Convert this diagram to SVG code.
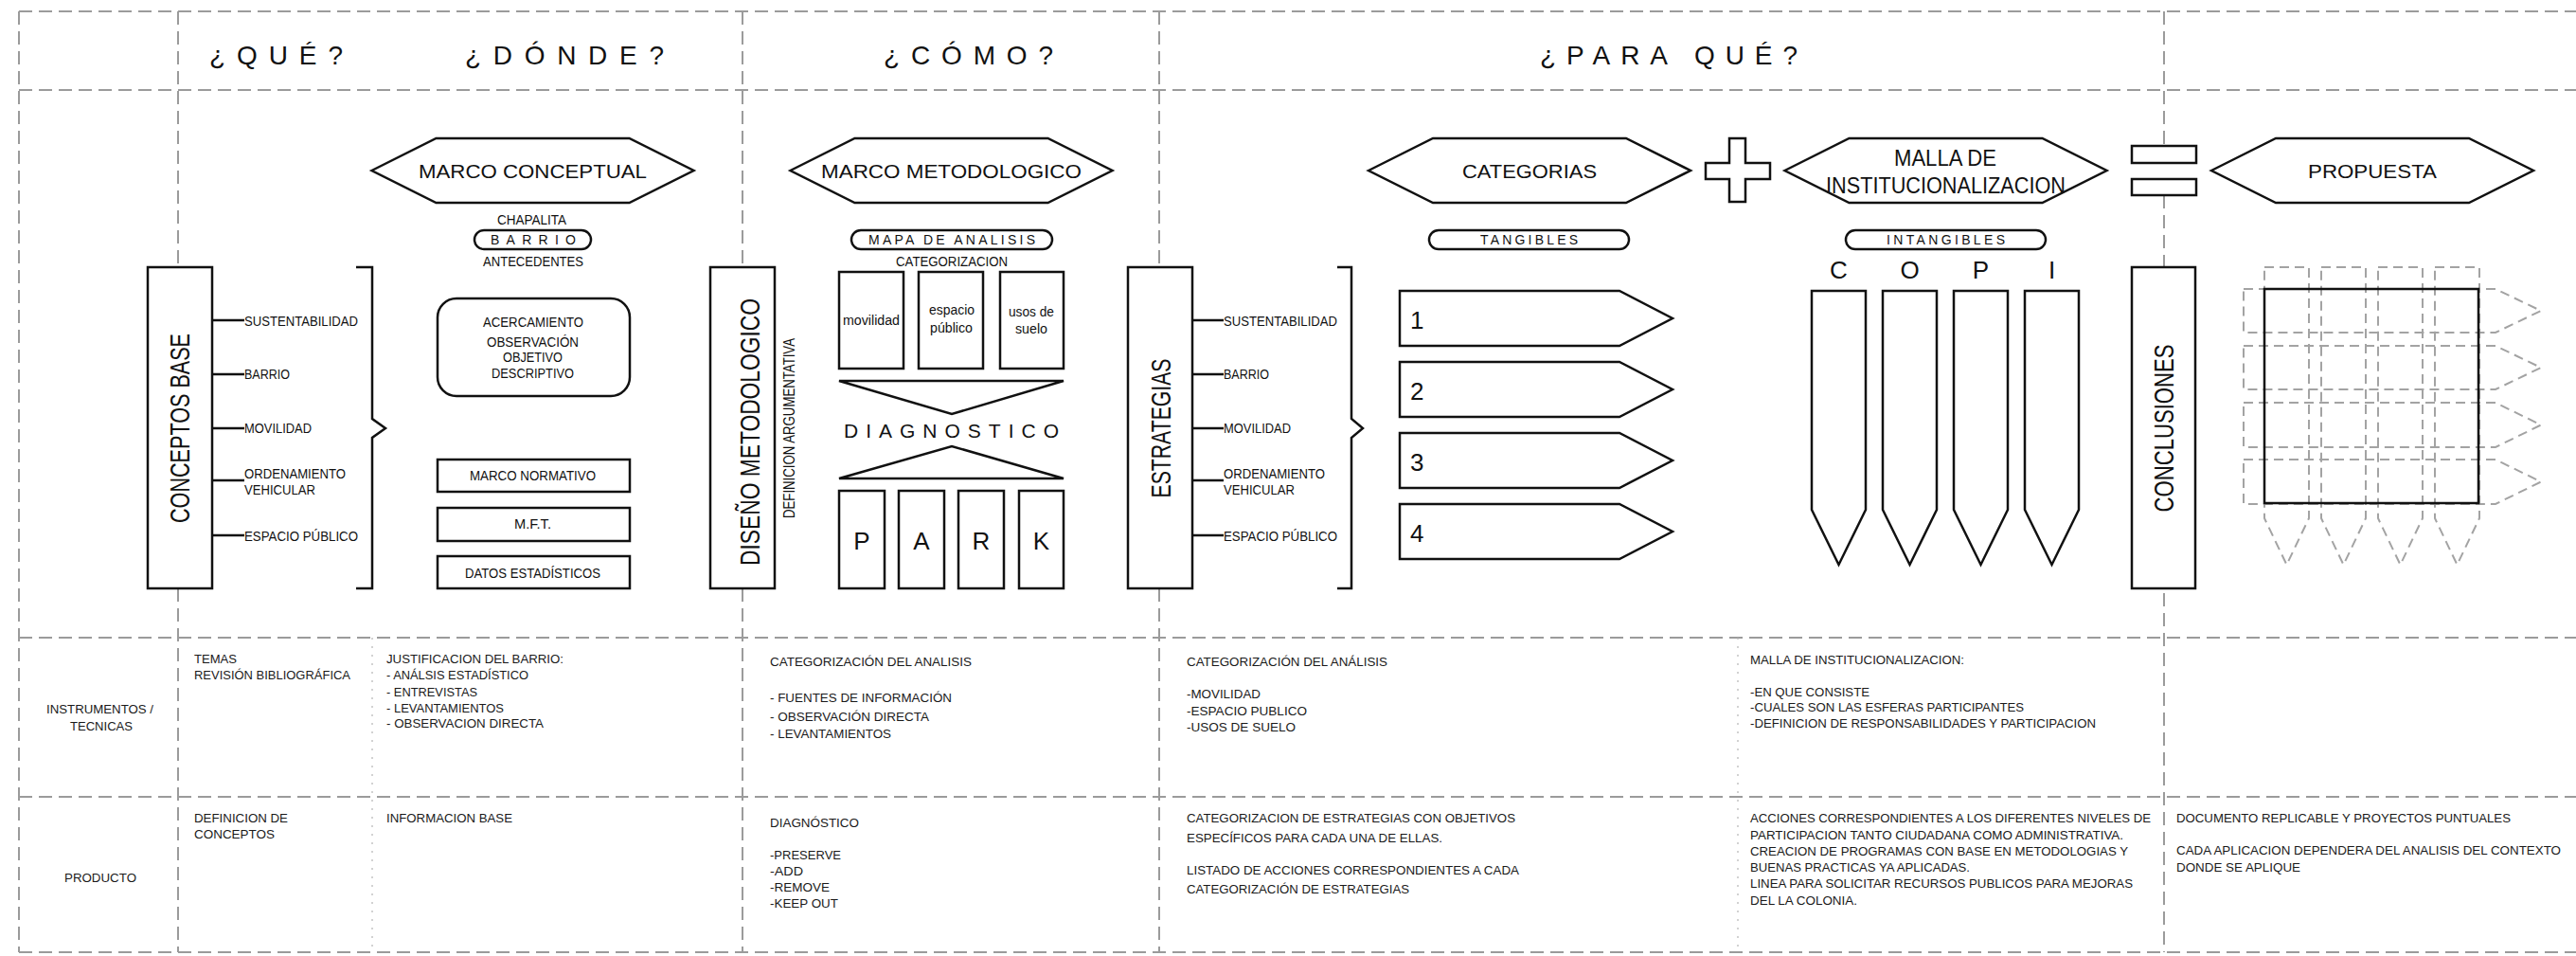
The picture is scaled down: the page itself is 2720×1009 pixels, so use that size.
<svg xmlns="http://www.w3.org/2000/svg" xmlns:xlink="http://www.w3.org/1999/xlink" width="2720" height="1009" viewBox="0 0 2720 1009">
<style>
  .grid{stroke:#9b9b9b;stroke-width:2;stroke-dasharray:14 7;fill:none}
  .dot{stroke:#b5b5b5;stroke-width:1.2;stroke-dasharray:2 7;fill:none}
  .box{fill:#fff;stroke:#111;stroke-width:2.5}
  .line{fill:none;stroke:#111;stroke-width:2.5}
  .ghost{fill:none;stroke:#a3a3a3;stroke-width:2;stroke-dasharray:10 6}
  text{font-family:"Liberation Sans Narrow","Liberation Sans",Arial,sans-serif;fill:#111}
  .hd{font-size:28px}
  .hx{font-size:21px;text-anchor:middle}
  .br{font-size:15px}
  .sm{font-size:14.5px}
  .lc{font-size:14px}
  .rot{font-size:30px;text-anchor:middle;font-family:"Liberation Sans",Arial,sans-serif}
  .tb text{font-size:13.5px;fill:#1a1a1a;font-family:"Liberation Sans",Arial,sans-serif}
  .big{font-size:26px;font-family:"Liberation Sans",Arial,sans-serif}
</style>
<defs>
  <path id="hex" d="M-170 0 L-102 -34 L102 -34 L170 0 L102 34 L-102 34 Z"/>
</defs>
<rect width="2720" height="1009" fill="#fff"/>

<!-- table grid -->
<g id="grid">
  <path class="grid" d="M20 12H2720M20 95H2720M20 673H2720M20 841H2720M20 1005H2720"/>
  <path class="grid" d="M20 12V1005M188 12V1005M784 12V1005M1224 12V1005M2285 12V154M2285 206V1005"/>
  <path class="dot" d="M393 673V1005M1835 673V1005"/>
</g>

<!-- column headings -->
<g id="headings" class="hd">
  <text x="221" y="68" textLength="141" lengthAdjust="spacing">¿QUÉ?</text>
  <text x="491" y="68" textLength="210" lengthAdjust="spacing">¿DÓNDE?</text>
  <text x="933" y="68" textLength="179" lengthAdjust="spacing">¿CÓMO?</text>
  <text x="1626" y="68" textLength="272" lengthAdjust="spacing">¿PARA QUÉ?</text>
</g>

<!-- connectors: branch ticks and braces -->
<g id="connectors">
  <path class="line" d="M224 338H258M224 395H258M224 452H258M224 507H258M224 565H258"/>
  <path class="line" d="M1259 338H1292M1259 395H1292M1259 452H1292M1259 507H1292M1259 565H1292"/>
  <path class="line" d="M376 282H393V442L407 452L393 462V621H376"/>
  <path class="line" d="M1412 282H1427V442L1439 452L1427 462V621H1412"/>
</g>

<!-- hexagon titles -->
<g id="marco-conceptual"><use href="#hex" x="562.5" y="180" class="box"/><text class="hx" x="562.5" y="188" textLength="241" lengthAdjust="spacingAndGlyphs">MARCO CONCEPTUAL</text></g>
<g id="marco-metodologico"><use href="#hex" x="1004.5" y="180" class="box"/><text class="hx" x="1004.5" y="188" textLength="275" lengthAdjust="spacingAndGlyphs">MARCO METODOLOGICO</text></g>
<g id="categorias"><use href="#hex" x="1615" y="180" class="box"/><text class="hx" x="1615" y="188" textLength="142" lengthAdjust="spacingAndGlyphs">CATEGORIAS</text></g>
<g id="malla"><use href="#hex" x="2054.5" y="180" class="box"/>
  <text x="2000" y="175" font-size="23" textLength="108" lengthAdjust="spacingAndGlyphs">MALLA DE</text>
  <text x="1928" y="204" font-size="23" textLength="253" lengthAdjust="spacingAndGlyphs">INSTITUCIONALIZACION</text></g>
<g id="propuesta"><use href="#hex" x="2505" y="180" class="box"/><text class="hx" x="2505" y="188" textLength="136" lengthAdjust="spacingAndGlyphs">PROPUESTA</text></g>
<g id="plus"><path class="box" d="M1826 146H1843V172H1869V189H1843V213H1826V189H1801V172H1826Z"/></g>
<g id="equals"><rect class="box" x="2251" y="154" width="68" height="18"/><rect class="box" x="2251" y="189" width="68" height="17"/></g>

<!-- conceptos base -->
<g id="conceptos-base">
  <rect class="box" x="156" y="282" width="68" height="339"/>
  <text class="rot" transform="translate(200 452) rotate(-90)" textLength="200" lengthAdjust="spacingAndGlyphs">CONCEPTOS BASE</text>
</g>
<g id="temas-base" class="br">
  <text x="258" y="344" textLength="120" lengthAdjust="spacingAndGlyphs">SUSTENTABILIDAD</text>
  <text x="258" y="400" textLength="48" lengthAdjust="spacingAndGlyphs">BARRIO</text>
  <text x="258" y="457" textLength="71" lengthAdjust="spacingAndGlyphs">MOVILIDAD</text>
  <text x="258" y="505" textLength="107" lengthAdjust="spacingAndGlyphs">ORDENAMIENTO</text>
  <text x="258" y="522" textLength="75" lengthAdjust="spacingAndGlyphs">VEHICULAR</text>
  <text x="258" y="571" textLength="120" lengthAdjust="spacingAndGlyphs">ESPACIO PÚBLICO</text>
</g>

<!-- barrio -->
<g id="barrio" class="sm">
  <text x="525" y="237" textLength="73" lengthAdjust="spacingAndGlyphs">CHAPALITA</text>
  <rect class="box" x="501" y="243" width="123" height="20" rx="10"/>
  <text x="518" y="258" font-size="14" textLength="90" lengthAdjust="spacing">BARRIO</text>
  <text x="510" y="281" textLength="106" lengthAdjust="spacingAndGlyphs">ANTECEDENTES</text>
</g>
<g id="acercamiento" class="sm">
  <rect class="box" x="462" y="315" width="203" height="103" rx="20"/>
  <text x="510" y="345" textLength="106" lengthAdjust="spacingAndGlyphs">ACERCAMIENTO</text>
  <text x="514" y="366" textLength="97" lengthAdjust="spacingAndGlyphs">OBSERVACIÓN</text>
  <text x="531" y="382" textLength="63" lengthAdjust="spacingAndGlyphs">OBJETIVO</text>
  <text x="519" y="399" textLength="87" lengthAdjust="spacingAndGlyphs">DESCRIPTIVO</text>
</g>
<g id="marco-normativo" class="sm"><rect class="box" x="462" y="485" width="203" height="34"/><text x="496" y="507" textLength="133" lengthAdjust="spacingAndGlyphs">MARCO NORMATIVO</text></g>
<g id="mft" class="sm"><rect class="box" x="462" y="536" width="203" height="35"/><text x="543" y="558" textLength="39" lengthAdjust="spacingAndGlyphs">M.F.T.</text></g>
<g id="datos" class="sm"><rect class="box" x="462" y="587" width="203" height="34"/><text x="491" y="610" textLength="143" lengthAdjust="spacingAndGlyphs">DATOS ESTADÍSTICOS</text></g>

<!-- diseño metodologico -->
<g id="diseno-metodologico">
  <rect class="box" x="750" y="282" width="68" height="339"/>
  <text class="rot" font-size="31" transform="translate(802 456) rotate(-90)" textLength="282" lengthAdjust="spacingAndGlyphs">DISEÑO METODOLOGICO</text>
  <text class="rot" style="font-size:16px" transform="translate(839 452) rotate(-90)" textLength="190" lengthAdjust="spacingAndGlyphs">DEFINICION ARGUMENTATIVA</text>
</g>

<!-- mapa de analisis -->
<g id="mapa-analisis" class="sm">
  <rect class="box" x="899" y="243" width="212" height="20" rx="10"/>
  <text x="917" y="258" font-size="14" textLength="176" lengthAdjust="spacing">MAPA DE ANALISIS</text>
  <text x="946" y="281" textLength="118" lengthAdjust="spacingAndGlyphs">CATEGORIZACION</text>
</g>
<g id="categorias-analisis" class="lc">
  <rect class="box" x="886" y="287" width="68" height="102"/>
  <rect class="box" x="970" y="287" width="68" height="102"/>
  <rect class="box" x="1056" y="287" width="67" height="102"/>
  <text x="890" y="343" textLength="60" lengthAdjust="spacingAndGlyphs">movilidad</text>
  <text x="981" y="332" textLength="48" lengthAdjust="spacingAndGlyphs">espacio</text>
  <text x="982" y="351" textLength="45" lengthAdjust="spacingAndGlyphs">público</text>
  <text x="1065" y="334" textLength="48" lengthAdjust="spacingAndGlyphs">usos de</text>
  <text x="1072" y="352" textLength="34" lengthAdjust="spacingAndGlyphs">suelo</text>
</g>
<g id="diagnostico">
  <path class="box" d="M886 402H1123L1005 437Z"/>
  <text x="891" y="462" font-size="21" textLength="227" lengthAdjust="spacing">DIAGNOSTICO</text>
  <path class="box" d="M886 505H1123L1005 471Z"/>
</g>
<g id="park" class="big">
  <rect class="box" x="886" y="518" width="48" height="103"/>
  <rect class="box" x="949" y="518" width="48" height="103"/>
  <rect class="box" x="1012" y="518" width="48" height="103"/>
  <rect class="box" x="1076" y="518" width="47" height="103"/>
  <text x="910" y="580" text-anchor="middle">P</text>
  <text x="973" y="580" text-anchor="middle">A</text>
  <text x="1036" y="580" text-anchor="middle">R</text>
  <text x="1099.5" y="580" text-anchor="middle">K</text>
</g>

<!-- estrategias -->
<g id="estrategias">
  <rect class="box" x="1191" y="282" width="68" height="339"/>
  <text class="rot" font-size="29" transform="translate(1236 452) rotate(-90)" textLength="147" lengthAdjust="spacingAndGlyphs">ESTRATEGIAS</text>
</g>
<g id="temas-estrategias" class="br">
  <text x="1292" y="344" textLength="120" lengthAdjust="spacingAndGlyphs">SUSTENTABILIDAD</text>
  <text x="1292" y="400" textLength="48" lengthAdjust="spacingAndGlyphs">BARRIO</text>
  <text x="1292" y="457" textLength="71" lengthAdjust="spacingAndGlyphs">MOVILIDAD</text>
  <text x="1292" y="505" textLength="107" lengthAdjust="spacingAndGlyphs">ORDENAMIENTO</text>
  <text x="1292" y="522" textLength="75" lengthAdjust="spacingAndGlyphs">VEHICULAR</text>
  <text x="1292" y="571" textLength="120" lengthAdjust="spacingAndGlyphs">ESPACIO PÚBLICO</text>
</g>

<!-- tangibles -->
<g id="tangibles">
  <rect class="box" x="1509" y="243" width="211" height="20" rx="10"/>
  <text x="1563" y="258" font-size="14" textLength="103" lengthAdjust="spacing">TANGIBLES</text>
</g>
<g id="categoria-1"><path class="box" d="M1478 307H1710L1766 336L1710 365H1478Z"/><text class="big" x="1489" y="347">1</text></g>
<g id="categoria-2"><path class="box" d="M1478 382H1710L1766 411L1710 440H1478Z"/><text class="big" x="1489" y="422">2</text></g>
<g id="categoria-3"><path class="box" d="M1478 457H1710L1766 486L1710 515H1478Z"/><text class="big" x="1489" y="497">3</text></g>
<g id="categoria-4"><path class="box" d="M1478 532H1710L1766 561L1710 590H1478Z"/><text class="big" x="1489" y="572">4</text></g>

<!-- intangibles -->
<g id="intangibles">
  <rect class="box" x="1949" y="243" width="211" height="20" rx="10"/>
  <text x="1992" y="258" font-size="14" textLength="125" lengthAdjust="spacing">INTANGIBLES</text>
</g>
<g id="copi-c"><text class="big" x="1941.5" y="294" font-size="28" text-anchor="middle">C</text><path class="box" stroke-width="2" d="M1913 307H1970V538L1941.5 596L1913 538Z"/></g>
<g id="copi-o"><text class="big" x="2016.5" y="294" font-size="28" text-anchor="middle">O</text><path class="box" stroke-width="2" d="M1988 307H2045V538L2016.5 596L1988 538Z"/></g>
<g id="copi-p"><text class="big" x="2091.5" y="294" font-size="28" text-anchor="middle">P</text><path class="box" stroke-width="2" d="M2063 307H2120V538L2091.5 596L2063 538Z"/></g>
<g id="copi-i"><text class="big" x="2166.5" y="294" font-size="28" text-anchor="middle">I</text><path class="box" stroke-width="2" d="M2138 307H2195V538L2166.5 596L2138 538Z"/></g>

<!-- conclusiones -->
<g id="conclusiones">
  <rect class="box" x="2251" y="282" width="67" height="339"/>
  <text class="rot" font-size="28" transform="translate(2295 452) rotate(-90)" textLength="177" lengthAdjust="spacingAndGlyphs">CONCLUSIONES</text>
</g>

<!-- propuesta matrix -->
<g id="matriz">
  <path class="ghost" d="M2391 282H2438V547L2414.5 596L2391 547Z"/>
  <path class="ghost" d="M2451 282H2498V547L2474.5 596L2451 547Z"/>
  <path class="ghost" d="M2511 282H2558V547L2534.5 596L2511 547Z"/>
  <path class="ghost" d="M2571 282H2618V547L2594.5 596L2571 547Z"/>
  <path class="ghost" d="M2369 305H2635L2683 328L2635 351H2369Z"/>
  <path class="ghost" d="M2369 365H2635L2683 388L2635 411H2369Z"/>
  <path class="ghost" d="M2369 425H2635L2683 448.5L2635 472H2369Z"/>
  <path class="ghost" d="M2369 485H2635L2683 508.5L2635 532H2369Z"/>
  <rect x="2391" y="305" width="226" height="226" fill="none" stroke="#111" stroke-width="2.5"/>
</g>

<!-- row labels -->
<g id="row-labels" class="tb">
  <text x="49" y="753" textLength="113" lengthAdjust="spacingAndGlyphs">INSTRUMENTOS /</text>
  <text x="74" y="771" textLength="66" lengthAdjust="spacingAndGlyphs">TECNICAS</text>
  <text x="68" y="931" textLength="76" lengthAdjust="spacingAndGlyphs">PRODUCTO</text>
</g>

<!-- instrumentos / tecnicas -->
<g id="instrumentos" class="tb">
  <text x="205" y="700" textLength="45" lengthAdjust="spacingAndGlyphs">TEMAS</text>
  <text x="205" y="717" textLength="165" lengthAdjust="spacingAndGlyphs">REVISIÓN BIBLIOGRÁFICA</text>
  <text x="408" y="700" textLength="187" lengthAdjust="spacingAndGlyphs">JUSTIFICACION DEL BARRIO:</text>
  <text x="408" y="717" textLength="150" lengthAdjust="spacingAndGlyphs">- ANÁLSIS ESTADÍSTICO</text>
  <text x="408" y="735" textLength="96" lengthAdjust="spacingAndGlyphs">- ENTREVISTAS</text>
  <text x="408" y="752" textLength="124" lengthAdjust="spacingAndGlyphs">- LEVANTAMIENTOS</text>
  <text x="408" y="768" textLength="166" lengthAdjust="spacingAndGlyphs">- OBSERVACION DIRECTA</text>
  <text x="813" y="703" textLength="213" lengthAdjust="spacingAndGlyphs">CATEGORIZACIÓN DEL ANALISIS</text>
  <text x="813" y="741" textLength="192" lengthAdjust="spacingAndGlyphs">- FUENTES DE INFORMACIÓN</text>
  <text x="813" y="761" textLength="168" lengthAdjust="spacingAndGlyphs">- OBSERVACIÓN DIRECTA</text>
  <text x="813" y="779" textLength="128" lengthAdjust="spacingAndGlyphs">- LEVANTAMIENTOS</text>
  <text x="1253" y="703" textLength="212" lengthAdjust="spacingAndGlyphs">CATEGORIZACIÓN DEL ANÁLISIS</text>
  <text x="1253" y="737" textLength="78" lengthAdjust="spacingAndGlyphs">-MOVILIDAD</text>
  <text x="1253" y="755" textLength="127" lengthAdjust="spacingAndGlyphs">-ESPACIO PUBLICO</text>
  <text x="1253" y="772" textLength="115" lengthAdjust="spacingAndGlyphs">-USOS DE SUELO</text>
  <text x="1848" y="701" textLength="226" lengthAdjust="spacingAndGlyphs">MALLA DE INSTITUCIONALIZACION:</text>
  <text x="1848" y="735" textLength="126" lengthAdjust="spacingAndGlyphs">-EN QUE CONSISTE</text>
  <text x="1848" y="751" textLength="289" lengthAdjust="spacingAndGlyphs">-CUALES SON LAS ESFERAS PARTICIPANTES</text>
  <text x="1848" y="768" textLength="365" lengthAdjust="spacingAndGlyphs">-DEFINICION DE RESPONSABILIDADES Y PARTICIPACION</text>
</g>

<!-- producto -->
<g id="producto" class="tb">
  <text x="205" y="868" textLength="99" lengthAdjust="spacingAndGlyphs">DEFINICION DE</text>
  <text x="205" y="885" textLength="85" lengthAdjust="spacingAndGlyphs">CONCEPTOS</text>
  <text x="408" y="868" textLength="133" lengthAdjust="spacingAndGlyphs">INFORMACION BASE</text>
  <text x="813" y="873" textLength="94" lengthAdjust="spacingAndGlyphs">DIAGNÓSTICO</text>
  <text x="813" y="907" textLength="75" lengthAdjust="spacingAndGlyphs">-PRESERVE</text>
  <text x="813" y="924" textLength="35" lengthAdjust="spacingAndGlyphs">-ADD</text>
  <text x="813" y="941" textLength="63" lengthAdjust="spacingAndGlyphs">-REMOVE</text>
  <text x="813" y="958" textLength="72" lengthAdjust="spacingAndGlyphs">-KEEP OUT</text>
  <text x="1253" y="868" textLength="347" lengthAdjust="spacingAndGlyphs">CATEGORIZACION DE ESTRATEGIAS CON OBJETIVOS</text>
  <text x="1253" y="889" textLength="270" lengthAdjust="spacingAndGlyphs">ESPECÍFICOS PARA CADA UNA DE ELLAS.</text>
  <text x="1253" y="923" textLength="351" lengthAdjust="spacingAndGlyphs">LISTADO DE ACCIONES CORRESPONDIENTES A CADA</text>
  <text x="1253" y="943" textLength="235" lengthAdjust="spacingAndGlyphs">CATEGORIZACIÓN DE ESTRATEGIAS</text>
  <text x="1848" y="868" textLength="423" lengthAdjust="spacingAndGlyphs">ACCIONES CORRESPONDIENTES A LOS DIFERENTES NIVELES DE</text>
  <text x="1848" y="886" textLength="394" lengthAdjust="spacingAndGlyphs">PARTICIPACION TANTO CIUDADANA COMO ADMINISTRATIVA.</text>
  <text x="1848" y="903" textLength="399" lengthAdjust="spacingAndGlyphs">CREACION DE PROGRAMAS CON BASE EN METODOLOGIAS Y</text>
  <text x="1848" y="920" textLength="232" lengthAdjust="spacingAndGlyphs">BUENAS PRACTICAS YA APLICADAS.</text>
  <text x="1848" y="937" textLength="404" lengthAdjust="spacingAndGlyphs">LINEA PARA SOLICITAR RECURSOS PUBLICOS PARA MEJORAS</text>
  <text x="1848" y="955" textLength="113" lengthAdjust="spacingAndGlyphs">DEL LA COLONIA.</text>
  <text x="2298" y="868" textLength="353" lengthAdjust="spacingAndGlyphs">DOCUMENTO REPLICABLE Y PROYECTOS PUNTUALES</text>
  <text x="2298" y="902" textLength="406" lengthAdjust="spacingAndGlyphs">CADA APLICACION DEPENDERA DEL ANALISIS DEL CONTEXTO</text>
  <text x="2298" y="920" textLength="131" lengthAdjust="spacingAndGlyphs">DONDE SE APLIQUE</text>
</g>
</svg>
